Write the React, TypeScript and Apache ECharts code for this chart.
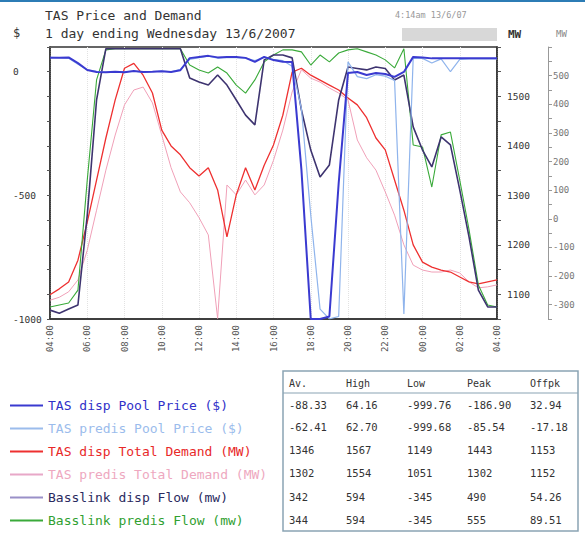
import React, { useEffect, useRef } from "react";
import * as echarts from "echarts";

const times = [
  "04:00", "04:30", "05:00", "05:30", "06:00", "06:30", "07:00", "07:30", "08:00", "08:30",
  "09:00", "09:30", "10:00", "10:30", "11:00", "11:30", "12:00", "12:30", "13:00", "13:30",
  "14:00", "14:30", "15:00", "15:30", "16:00", "16:30", "17:00", "17:30", "18:00", "18:30",
  "19:00", "19:30", "20:00", "20:30", "21:00", "21:30", "22:00", "22:30", "23:00", "23:30",
  "00:00", "00:30", "01:00", "01:30", "02:00", "02:30", "03:00", "03:30", "04:00",
];

const dispPrice = [
  57, 57, 58, 35, 7, -1, -2, 0, -2, 3, -1, 0, 2, -1, 6,
  55, 60, 64.16, 58, 60, 60, 56, 40, 60, 47, 40, 39,
  -397, -1000, -999.76, -990, -450,
  -5, -1, -13, -5, -9, -21, -1,
  60, 58, 54, 54, 54, 54, 54, 54, 54, 54,
];
const predisPrice = [
  58, 57, 55, 30, 8, 2, -3, 1, 0, 2, -2, 1, 3, 0, 10,
  50, 57, 62.7, 55, 58, 57, 55, 45, 58, 50, 45, 22,
  -150, -580, -960, -999.68, -990,
  40, -20, -28, -12, -18, -35, -980,
  55, 54, 35, 52, 0, 50, 52, 52, 52, 52,
];
const dispDemand = [
  1099, 1111, 1125, 1169, 1246, 1331, 1416, 1493, 1557, 1567,
  1543, 1507, 1432, 1400, 1382, 1356, 1339, 1356, 1311, 1216,
  1301, 1356, 1311, 1361, 1402, 1462, 1549, 1557, 1543, 1533,
  1523, 1513, 1497, 1483, 1457, 1416, 1392, 1331, 1270, 1200,
  1165, 1155, 1149, 1145, 1135, 1125, 1121, 1125, 1129,
];
const predisDemand = [
  1088, 1094, 1105, 1129, 1189, 1270, 1351, 1422, 1483, 1513,
  1519, 1487, 1422, 1356, 1307, 1285, 1255, 1220, 1051, 1321,
  1301, 1331, 1301, 1321, 1371, 1432, 1509, 1554, 1537, 1529,
  1517, 1507, 1493, 1412, 1376, 1351, 1307, 1260, 1200, 1159,
  1149, 1145, 1145, 1149, 1143, 1125, 1113, 1115, 1119,
];
const basslinkDisp = [
  -319, -330, -315, -301, 13, 415, 594, 594, 594, 594,
  594, 594, 594, 594, 594, 492, 478, 467, 502, 467,
  415, 362, 328, 555, 572, 572, 562, 380, 240, 146,
  188, 415, 530, 525, 520, 530, 525, 485, 502, 321,
  240, 181, 286, 258, 101, -64, -249, -308, -308,
];
const basslinkPredis = [
  -308, -301, -294, -249, 135, 485, 590, 594, 594, 594,
  594, 594, 594, 594, 594, 537, 520, 509, 530, 509,
  467, 439, 485, 548, 572, 590, 590, 583, 537, 572,
  548, 579, 590, 594, 583, 572, 555, 527, 594, 258,
  251, 111, 293, 303, 135, -39, -231, -301, -308,
];

const seriesNames = [
  "TAS disp Pool Price ($)",
  "TAS predis Pool Price ($)",
  "TAS disp Total Demand (MW)",
  "TAS predis Total Demand (MW)",
  "Basslink disp Flow (mw)",
  "Basslink predis Flow (mw)",
];

const tableHeader = ["Av.", "High", "Low", "Peak", "Offpk"];
const tableRows = [
  ["-88.33", "64.16", "-999.76", "-186.90", "32.94"],
  ["-62.41", "62.70", "-999.68", "-85.54", "-17.18"],
  ["1346", "1567", "1149", "1443", "1153"],
  ["1302", "1554", "1051", "1302", "1152"],
  ["342", "594", "-345", "490", "54.26"],
  ["344", "594", "-345", "555", "89.51"],
];

const MONO = "'DejaVu Sans Mono', monospace";

export default function App() {
  const ref = useRef<HTMLDivElement>(null);
  useEffect(() => {
    const chart = echarts.init(ref.current!, null, { renderer: "svg" });
    const lineColors = ["#3a3ad0", "#8fb4ec", "#ee3030", "#f0a0b8", "#3e3470", "#3aaa3a"];
    const legendColors = ["#3a3ad0", "#9bbcec", "#ee3030", "#e8a8c8", "#9a90c8", "#3aaa3a"];
    const textColors = ["#3030c8", "#9bbcec", "#e82828", "#eea8c0", "#2a2a60", "#30a030"];
    const widths = [2, 1.2, 1.3, 1, 1.6, 1.1];
    const axisIdx = [0, 0, 1, 1, 2, 2];
    const dataSets = [dispPrice, predisPrice, dispDemand, predisDemand, basslinkDisp, basslinkPredis];
    const zs = [7, 6, 4, 3, 5, 4];

    const colX = [289, 346, 407, 467, 530];
    const rowY = [405, 427, 450, 473, 497, 520];
    const tableEls: any[] = [
      { type: "rect", shape: { x: 283, y: 371, width: 295, height: 160 }, style: { fill: "#fff", stroke: "#8aa4b4", lineWidth: 1.5 } },
      { type: "line", shape: { x1: 283, y1: 393, x2: 578, y2: 393 }, style: { stroke: "#8aa4b4", lineWidth: 1.2 } },
    ];
    tableHeader.forEach((h, c) => {
      tableEls.push({ type: "text", x: colX[c], y: 383, style: { text: h, fill: "#333", font: `10px ${MONO}`, verticalAlign: "middle" } });
    });
    tableRows.forEach((row, r) => {
      row.forEach((v, c) => {
        tableEls.push({ type: "text", x: colX[c], y: rowY[r], style: { text: v, fill: "#333", font: `10.5px ${MONO}`, verticalAlign: "middle" } });
      });
    });

    chart.setOption({
      animation: false,
      backgroundColor: "#fff",
      grid: { left: 50, top: 47, width: 447, height: 272, show: true, borderColor: "#333", borderWidth: 1.5, backgroundColor: "#fff" },
      legend: {
        orient: "vertical",
        left: 10,
        top: 398,
        height: 136,
        padding: 0,
        itemWidth: 33,
        itemHeight: 2,
        itemGap: 8,
        data: seriesNames.map((n, i) => ({
          name: n,
          icon: "rect",
          itemStyle: { color: legendColors[i] },
          textStyle: { color: textColors[i], fontFamily: MONO, fontSize: 13, lineHeight: 15 },
        })),
        textStyle: { fontFamily: MONO, fontSize: 13, lineHeight: 15 },
      },
      xAxis: {
        type: "category",
        data: times,
        boundaryGap: false,
        axisLine: { onZero: false, lineStyle: { color: "#333", width: 1.5 } },
        axisTick: { show: false },
        axisLabel: { interval: 3, rotate: 90, fontSize: 9, fontFamily: MONO, color: "#555", margin: 6 },
        splitLine: { show: true, interval: 3, lineStyle: { color: "#e2e2e2", type: "dotted" } },
      },
      yAxis: [
        {
          type: "value", position: "left", min: -1000, max: 100, interval: 100,
          axisLine: { show: true, lineStyle: { color: "#333", width: 1.5 } },
          axisTick: { show: true, length: 3, lineStyle: { color: "#555" } },
          axisLabel: {
            formatter: (v: number) => (v % 500 === 0 ? String(v) : ""),
            align: "left", margin: 37, fontSize: 9.5, fontFamily: MONO, color: "#333",
          },
          splitLine: { show: false },
        },
        {
          type: "value", position: "right", min: 1050, max: 1600, interval: 50,
          axisLine: { show: true, lineStyle: { color: "#333", width: 1.5 } },
          axisTick: { show: true, length: 4, lineStyle: { color: "#555" } },
          axisLabel: {
            formatter: (v: number) => (v % 100 === 0 && v >= 1100 && v <= 1500 ? String(v) : ""),
            margin: 10, fontSize: 9.5, fontFamily: MONO, color: "#333",
          },
          splitLine: { show: false },
        },
        {
          type: "value", position: "right", offset: 51, min: -350, max: 600, interval: 50,
          axisLine: { show: true, lineStyle: { color: "#999", width: 1 } },
          axisTick: { show: true, length: 4, lineStyle: { color: "#999" } },
          axisLabel: {
            formatter: (v: number) => (v % 100 === 0 && v >= -300 && v <= 500 ? String(v) : ""),
            margin: 5, fontSize: 9, fontFamily: MONO, color: "#777",
          },
          splitLine: { show: false },
        },
      ],
      series: seriesNames.map((n, i) => ({
        name: n,
        type: "line",
        yAxisIndex: axisIdx[i],
        data: dataSets[i],
        symbol: "none",
        z: zs[i],
        lineStyle: { color: lineColors[i], width: widths[i] },
        itemStyle: { color: lineColors[i] },
      })),
      graphic: [
        { type: "rect", shape: { x: 0, y: 0, width: 585, height: 2 }, style: { fill: "#2c7cb5" } },
        { type: "text", x: 45, y: 15, style: { text: "TAS Price and Demand", fill: "#333", font: `13px ${MONO}`, verticalAlign: "middle" } },
        { type: "text", x: 45, y: 33, style: { text: "1 day ending Wednesday 13/6/2007", fill: "#333", font: `13px ${MONO}`, verticalAlign: "middle" } },
        { type: "text", x: 13, y: 33, style: { text: "$", fill: "#333", font: `12px ${MONO}`, verticalAlign: "middle" } },
        { type: "text", x: 395, y: 15, style: { text: "4:14am 13/6/07", fill: "#999", font: `8.5px ${MONO}`, verticalAlign: "middle" } },
        { type: "rect", shape: { x: 402, y: 28, width: 95, height: 13 }, style: { fill: "#d8d8d8" } },
        { type: "text", x: 508, y: 34, style: { text: "MW", fill: "#333", font: `bold 11px ${MONO}`, verticalAlign: "middle" } },
        { type: "text", x: 556, y: 34, style: { text: "MW", fill: "#888", font: `9px ${MONO}`, verticalAlign: "middle" } },
        ...tableEls,
      ],
    });
    return () => chart.dispose();
  }, []);
  return (
    <div
      ref={ref}
      style={{ position: "absolute", left: 0, top: 0, width: 585, height: 535, background: "#fff" }}
    />
  );
}
